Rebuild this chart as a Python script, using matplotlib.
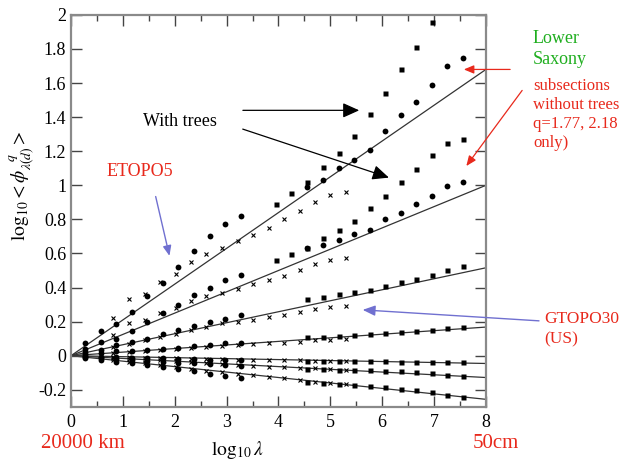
import numpy as np
import matplotlib
matplotlib.use("Agg")
import matplotlib.pyplot as plt
from matplotlib.ticker import MultipleLocator, FuncFormatter

plt.rcParams["font.family"] = ["Liberation Serif", "DejaVu Serif"]
plt.rcParams["mathtext.fontset"] = "stix"
plt.rcParams["axes.unicode_minus"] = False

RED = "#e8291c"
GREEN = "#1fae1f"
BLUE = "#7070d0"

# x positions (log10 lambda) of the three data sets
x_etopo = [0.27, 0.57, 0.87, 1.17, 1.47, 1.77, 2.07, 2.37, 2.67, 2.97, 3.27]
x_gtopo = [0.81, 1.12, 1.42, 1.72, 2.02, 2.31, 2.61, 2.91, 3.21, 3.51,
           3.81, 4.11, 4.41, 4.71, 5.00, 5.30]
x_saxony = [3.95, 4.25, 4.55, 4.86, 5.16, 5.46, 5.76, 6.06, 6.36, 6.66,
            6.96, 7.25, 7.55]
x_notrees = [4.55, 4.86, 5.16, 5.46, 5.76, 6.06, 6.36, 6.66, 6.96, 7.25, 7.55]

nan = np.nan

# ETOPO5 (circles), one row per moment q
etopo = [
    [0.072, 0.143, 0.186, 0.257, 0.35, 0.425, 0.52, 0.616, 0.70, 0.77, 0.82],
    [0.04, 0.078, 0.10, 0.145, 0.198, 0.25, 0.30, 0.355, 0.40, 0.447, 0.476],
    [0.02, 0.035, 0.06, 0.078, 0.10, 0.127, 0.15, 0.176, 0.196, 0.216, 0.237],
    [0.01, 0.018, 0.025, 0.03, 0.035, 0.04, 0.048, 0.055, 0.063, 0.072, 0.076],
    [-0.004, -0.007, -0.01, -0.012, -0.014, -0.016, -0.018, -0.021, -0.0235, -0.024, -0.026],
    [-0.008, -0.013, -0.018, -0.024, -0.029, -0.036, -0.041, -0.045, -0.049, -0.053, -0.063],
    [-0.012, -0.025, -0.035, -0.045, -0.055, -0.068, -0.078, -0.09, -0.108, -0.12, -0.13],
]

# GTOPO30 (crosses)
gtopo = [
    [0.22, 0.33, 0.36, 0.43, 0.48, 0.55, 0.594, 0.63, 0.675, 0.71, 0.75, 0.80, 0.85, 0.90, 0.945, 0.96],
    [0.12, 0.19, 0.21, 0.25, 0.28, 0.32, 0.35, 0.37, 0.394, 0.418, 0.445, 0.47, 0.504, 0.537, 0.563, 0.576],
    [0.05, 0.07, 0.09, 0.11, 0.13, 0.15, 0.17, 0.19, 0.20, 0.212, 0.225, 0.239, 0.255, 0.274, 0.288, 0.294],
    [0.015, 0.022, 0.028, 0.034, 0.04, 0.046, 0.052, 0.058, 0.065, 0.071, 0.073, 0.076, 0.082, 0.09, 0.093, 0.096],
    [-0.006, -0.009, -0.011, -0.013, -0.015, -0.017, -0.02, -0.022, -0.024, -0.026, -0.027, -0.028, -0.028, -0.029, -0.03, -0.03],
    [-0.012, -0.018, -0.023, -0.028, -0.033, -0.038, -0.043, -0.048, -0.055, -0.063, -0.065, -0.068, -0.072, -0.075, -0.08, -0.084],
    [-0.025, -0.035, -0.045, -0.055, -0.065, -0.078, -0.088, -0.097, -0.105, -0.114, -0.123, -0.133, -0.143, -0.152, -0.16, -0.167],
]

# Lower Saxony with trees (squares)
saxony = [
    [0.89, 0.955, 1.02, 1.11, 1.19, 1.29, 1.416, 1.54, 1.68, 1.81, 1.96, nan, nan],
    [0.563, 0.594, 0.634, 0.69, 0.735, 0.79, 0.865, 0.94, 1.02, 1.094, 1.18, 1.25, 1.27],
    [nan, nan, 0.335, 0.345, 0.363, 0.376, 0.388, 0.41, 0.43, 0.45, 0.475, 0.504, 0.524],
    [nan, nan, 0.108, 0.112, 0.118, 0.121, 0.127, 0.133, 0.139, 0.145, 0.153, 0.163, 0.169],
    [nan, nan, -0.032, -0.032, -0.033, -0.033, -0.033, -0.034, -0.035, -0.036, -0.037, -0.038, -0.039],
    [nan, nan, -0.08, -0.08, -0.083, -0.084, -0.084, -0.088, -0.092, -0.098, -0.102, -0.112, -0.118],
    [nan, nan, -0.155, -0.16, -0.168, -0.173, -0.178, -0.186, -0.194, -0.202, -0.212, -0.229, -0.245],
]

# Lower Saxony subsections without trees (circles), q = 1.77, 2.18
notrees = [
    [0.99, 1.03, 1.10, 1.15, 1.21, 1.32, 1.41, 1.49, 1.59, 1.70, 1.75],
    [0.63, 0.647, 0.68, 0.716, 0.74, 0.80, 0.84, 0.89, 0.937, 0.996, 1.02],
]

# slopes of the fitted lines through the origin
slopes = [0.21, 0.125, 0.0645, 0.021, -0.0057, -0.016, -0.032]
fit_x = np.array([0.0, 8.0])

fig = plt.figure(figsize=(6.23, 4.66), dpi=100)
ax = fig.add_axes([0.114, 0.127, 0.666, 0.841])

for s in slopes:
    ax.plot(fit_x, s * fit_x, color="#333333", lw=0.9, zorder=1)

for row in etopo:
    ax.plot(x_etopo, row, "o", color="black", ms=4.2, mec="none", zorder=3)
for row in gtopo:
    ax.plot(x_gtopo, row, "x", color="black", ms=3.0, mew=0.8, zorder=3)
for row in saxony:
    ax.plot(x_saxony, row, "s", color="black", ms=3.6, mec="none", zorder=3)
for row in notrees:
    ax.plot(x_notrees, row, "o", color="black", ms=4.2, mec="none", zorder=3)

ax.set_xlim(0, 8)
ax.set_ylim(-0.3, 2.0)
ax.xaxis.set_major_locator(MultipleLocator(1))
ax.xaxis.set_minor_locator(MultipleLocator(0.5))
ax.yaxis.set_major_locator(MultipleLocator(0.2))
ax.yaxis.set_major_formatter(FuncFormatter(lambda v, p: "%g" % round(v, 2)))
ax.tick_params(which="both", direction="in", top=True, right=True,
               color="#444444", labelsize=13)
ax.tick_params(which="major", length=8, width=1)
ax.tick_params(which="minor", length=4, width=1)
ax.tick_params(axis="x", pad=5)
for sp in ax.spines.values():
    sp.set_color("#8a8a8a")
    sp.set_linewidth(1.6)

# annotations
ax.text(2.1, 1.376, "With trees", fontsize=13, ha="center", va="center")
arrow_k = dict(arrowstyle="-|>,head_length=1.0,head_width=0.45", color="black", lw=0.9)
ax.annotate("", xy=(5.61, 1.44), xytext=(3.26, 1.44), arrowprops=arrow_k)
ax.annotate("", xy=(6.18, 1.04), xytext=(3.26, 1.335), arrowprops=arrow_k)

ax.text(1.33, 1.08, "ETOPO5", fontsize=13, color=RED, ha="center", va="center")
ax.annotate("", xy=(1.91, 0.57), xytext=(1.62, 0.95),
            arrowprops=dict(arrowstyle="-|>,head_length=0.6,head_width=0.25",
                            color=BLUE, lw=1))

ax.annotate("GTOPO30\n(US)", xy=(5.57, 0.27), xytext=(9.13, 0.155),
            fontsize=12.5, color=RED, ha="left", va="center", linespacing=1.4,
            annotation_clip=False,
            arrowprops=dict(arrowstyle="-|>,head_length=0.6,head_width=0.25",
                            color=BLUE, lw=1, relpos=(0, 0.72)))

fig.text(533 / 623, 1 - 49 / 466, "Lower\nSaxony", fontsize=13, color=GREEN,
         ha="left", va="center", linespacing=1.3)
fig.text(533 / 623, 1 - 114.5 / 466, "subsections\nwithout trees\nq=1.77, 2.18\nonly)",
         fontsize=12, color=RED, ha="left", va="center", linespacing=1.25)
arrow_r = dict(arrowstyle="-|>,head_length=0.6,head_width=0.25", color=RED, lw=0.9)
ax.annotate("", xy=(7.52, 1.68), xytext=(8.52, 1.68), arrowprops=arrow_r,
            annotation_clip=False)
ax.annotate("", xy=(7.59, 1.10), xytext=(8.73, 1.57), arrowprops=arrow_r,
            annotation_clip=False)

fig.text(83 / 623, 1 - 444 / 466, "20000 km", fontsize=15, color=RED,
         ha="center", va="center")
fig.text(496 / 623, 1 - 444 / 466, "50cm", fontsize=15, color=RED,
         ha="center", va="center")
fig.text(237 / 623, 1 - 450 / 466, r"$\log_{10}\lambda$", fontsize=14,
         ha="center", va="center")
fig.text(22 / 623, 1 - 185 / 466, r"$\log_{10}\!<\phi_{\lambda(d)}^{\ \ q}>$",
         fontsize=14, rotation=90, ha="center", va="center")

fig.savefig("out.png", dpi=100)
